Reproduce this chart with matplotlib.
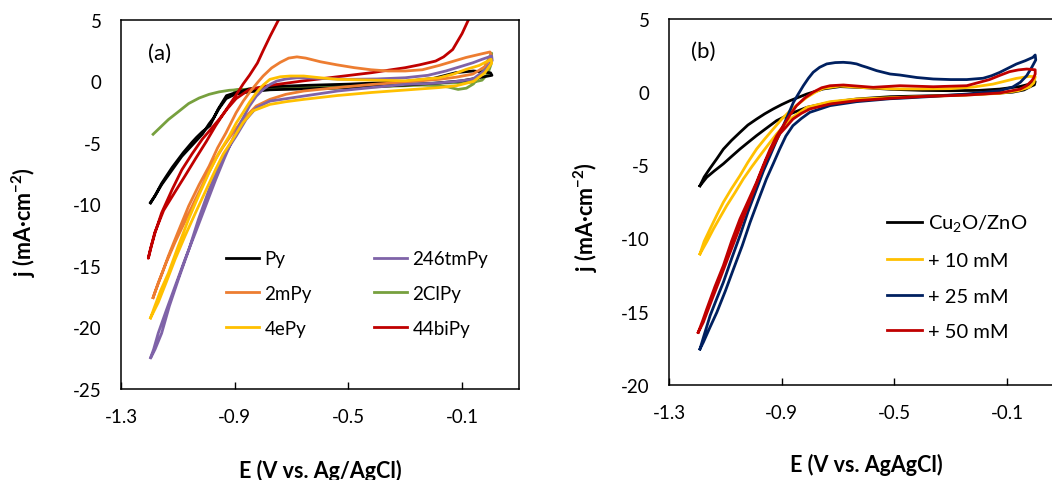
"""Cyclic voltammograms of Cu2O/ZnO with pyridine derivatives (two panels)."""

import matplotlib
matplotlib.use("Agg")
import matplotlib.pyplot as plt

plt.rcParams["font.family"] = ["Lato", "DejaVu Sans"]
plt.rcParams["mathtext.fontset"] = "custom"
plt.rcParams["mathtext.rm"] = "Lato"
plt.rcParams["mathtext.bf"] = "Lato:bold"

# ---- panel (a): loops, forward sweep then return sweep ----
py_e = [-1.196, -1.18, -1.157, -1.14, -1.12, -1.081, -1.05, -1.034, -1.014, -0.987,
        -0.958, -0.929, -0.894, -0.85, -0.776, -0.65, -0.50, -0.40, -0.30, -0.20,
        -0.121, -0.06, 0.0,
        0.005, -0.03, -0.10, -0.20, -0.30, -0.50, -0.65, -0.776, -0.85, -0.90,
        -0.93, -0.955, -0.975, -0.99, -1.014, -1.05, -1.086, -1.12, -1.157, -1.18, -1.196]
py_j = [-9.85, -9.3, -8.3, -7.7, -7.0, -5.8, -4.95, -4.55, -4.1, -3.6,
        -2.25, -1.16, -0.89, -0.62, -0.43, -0.32, -0.22, -0.12, 0.0, 0.25,
        0.72, 0.85, 0.7,
        0.5, 0.35, 0.05, -0.15, -0.3, -0.5, -0.6, -0.68, -0.85, -1.05,
        -1.4, -2.2, -3.0, -3.45, -4.3, -5.2, -6.1, -7.2, -8.4, -9.3, -9.9]

mpy2_e = [-1.187, -1.181, -1.155, -1.133, -1.10, -1.062, -1.025, -0.99, -0.96, -0.931,
          -0.895, -0.87, -0.848, -0.82, -0.80, -0.77, -0.74, -0.71, -0.681, -0.65,
          -0.598, -0.54, -0.479, -0.42, -0.36, -0.30, -0.24, -0.181, -0.13, -0.086,
          -0.04, -0.002,
          0.003, -0.02, -0.062, -0.12, -0.181, -0.30, -0.42, -0.538, -0.657, -0.72,
          -0.776, -0.824, -0.871, -0.907, -0.94, -0.967, -1.0, -1.038, -1.075, -1.11,
          -1.14, -1.169, -1.187]
mpy2_j = [-17.6, -17.2, -15.6, -14.2, -12.3, -10.15, -8.4, -6.9, -5.4, -4.2,
          -2.55, -1.6, -0.9, -0.1, 0.44, 1.1, 1.55, 1.9, 2.0, 1.9,
          1.6, 1.35, 1.12, 0.95, 0.85, 0.85, 0.95, 1.3, 1.65, 1.95,
          2.2, 2.4,
          2.1, 1.2, 0.6, 0.35, 0.17, -0.05, -0.25, -0.5, -0.78, -1.05,
          -1.46, -2.0, -3.1, -4.2, -5.3, -6.3, -7.8, -9.6, -11.4, -13.1,
          -14.7, -16.4, -17.6]

epy4_e = [-1.196, -1.181, -1.16, -1.133, -1.10, -1.062, -1.025, -0.99, -0.955, -0.919,
          -0.895, -0.871, -0.848, -0.824, -0.80, -0.776, -0.74, -0.705, -0.657, -0.60,
          -0.538, -0.419, -0.30, -0.181, -0.13, -0.086, -0.04, 0.002,
          0.004, -0.02, -0.06, -0.12, -0.181, -0.30, -0.419, -0.54, -0.657, -0.72,
          -0.776, -0.836, -0.871, -0.907, -0.94, -0.967, -1.0, -1.038, -1.075, -1.11,
          -1.14, -1.169, -1.196]
epy4_j = [-19.25, -18.3, -17.0, -15.6, -13.5, -11.2, -9.2, -7.4, -5.8, -4.45,
          -3.4, -2.55, -1.7, -0.92, -0.3, 0.17, 0.38, 0.44, 0.44, 0.3,
          0.17, 0.11, 0.05, 0.3, 0.6, 0.98, 1.3, 1.8,
          1.5, 0.7, 0.0, -0.35, -0.5, -0.7, -0.9, -1.15, -1.46, -1.65,
          -1.87, -2.4, -3.36, -4.72, -5.9, -7.16, -8.8, -10.7, -12.6, -14.5,
          -16.3, -18.0, -19.25]

tmpy_e = [-1.196, -1.185, -1.169, -1.14, -1.11, -1.075, -1.038, -1.0, -0.967, -0.937,
          -0.907, -0.878, -0.848, -0.824, -0.80, -0.776, -0.752, -0.72, -0.681, -0.60,
          -0.50, -0.40, -0.30, -0.22, -0.157, -0.10, -0.062, -0.03, 0.004,
          0.006, -0.02, -0.062, -0.12, -0.20, -0.30, -0.419, -0.538, -0.657, -0.776,
          -0.824, -0.86, -0.895, -0.93, -0.955, -0.99, -1.027, -1.06, -1.098, -1.13,
          -1.157, -1.18, -1.193]
tmpy_j = [-22.5, -21.8, -20.5, -18.6, -16.7, -14.5, -12.3, -10.0, -8.0, -6.3,
          -4.7, -3.3, -2.0, -1.2, -0.65, -0.25, 0.03, 0.2, 0.3, 0.25,
          0.17, 0.2, 0.3, 0.5, 0.85, 1.25, 1.52, 1.8, 2.07,
          1.7, 0.9, 0.19, 0.0, -0.15, -0.24, -0.5, -0.78, -1.19, -1.6,
          -2.14, -3.1, -4.45, -5.7, -6.9, -8.8, -11.2, -13.6, -16.1, -18.3,
          -20.5, -21.8, -22.4]

clpy_e = [-1.187, -1.16, -1.133, -1.10, -1.062, -1.025, -0.99, -0.955, -0.919, -0.878,
          -0.836, -0.70, -0.55, -0.42, -0.30, -0.24, -0.18, -0.15, -0.114, -0.085,
          -0.06, -0.038, -0.02, -0.002, 0.004,
          0.002, -0.01, -0.03, -0.06, -0.10, -0.20, -0.30, -0.50, -0.70, -0.836, -0.90]
clpy_j = [-4.3, -3.7, -3.1, -2.5, -1.8, -1.35, -1.05, -0.85, -0.72, -0.66,
          -0.62, -0.6, -0.55, -0.45, -0.35, -0.3, -0.35, -0.45, -0.65, -0.55,
          -0.2, 0.44, 1.2, 2.07, 2.3,
          1.4, 0.6, 0.1, -0.05, -0.1, -0.15, -0.2, -0.35, -0.5, -0.6, -0.72]

bipy_e = [-0.072, -0.10, -0.133, -0.165, -0.193, -0.25, -0.30, -0.419, -0.538, -0.657,
          -0.776, -0.848, -0.895, -0.925, -0.955, -1.014, -1.05, -1.086, -1.12, -1.157,
          -1.18, -1.193, -1.204,
          -1.196, -1.181, -1.15, -1.11, -1.075, -1.038, -1.0, -0.967, -0.93, -0.895,
          -0.87, -0.848, -0.82, -0.80, -0.775, -0.746, -0.735]
bipy_j = [5.3, 3.9, 2.6, 2.0, 1.66, 1.35, 1.12, 0.71, 0.38, 0.05,
          -0.32, -0.65, -1.4, -2.2, -3.1, -4.7, -5.9, -7.2, -8.8, -10.7,
          -12.3, -13.4, -14.4,
          -13.6, -12.3, -10.5, -9.0, -7.7, -6.3, -4.9, -3.6, -2.3, -1.1,
          -0.2, 0.5, 1.5, 2.5, 3.7, 5.0, 5.5]

# ---- panel (b) ----
cz_e = [-1.19, -1.175, -1.154, -1.13, -1.107, -1.078, -1.048, -1.02, -0.989, -0.96,
        -0.93, -0.90, -0.87, -0.811, -0.752, -0.693, -0.60, -0.515, -0.40, -0.30,
        -0.20, -0.126, -0.053, -0.02, 0.0,
        -0.003, -0.015, -0.04, -0.08, -0.126, -0.25, -0.40, -0.515, -0.634, -0.728,
        -0.811, -0.87, -0.918, -0.96, -0.989, -1.02, -1.048, -1.078, -1.107, -1.14,
        -1.166, -1.19]
cz_j = [-6.4, -5.8, -5.2, -4.55, -3.9, -3.3, -2.75, -2.25, -1.84, -1.48,
        -1.15, -0.85, -0.58, -0.13, 0.22, 0.38, 0.3, 0.2, 0.12, 0.1,
        0.12, 0.21, 0.39, 0.55, 0.72,
        0.5, 0.4, 0.15, 0.0, -0.06, -0.18, -0.26, -0.31, -0.47, -0.7,
        -1.04, -1.49, -1.95, -2.55, -2.97, -3.45, -3.89, -4.4, -4.9, -5.4,
        -5.82, -6.4]

m10_e = [-1.19, -1.175, -1.154, -1.13, -1.107, -1.078, -1.048, -1.02, -0.989, -0.96,
         -0.93, -0.90, -0.87, -0.84, -0.811, -0.78, -0.752, -0.693, -0.60, -0.50,
         -0.40, -0.30, -0.22, -0.15, -0.067, -0.02, 0.0,
         -0.005, -0.02, -0.06, -0.126, -0.25, -0.40, -0.515, -0.634, -0.728, -0.811,
         -0.87, -0.918, -0.948, -0.977, -1.006, -1.036, -1.065, -1.095, -1.12, -1.142,
         -1.165, -1.19]
m10_j = [-11.06, -10.2, -9.35, -8.4, -7.53, -6.6, -5.71, -4.8, -3.89, -3.2,
         -2.52, -1.85, -1.27, -0.8, -0.36, 0.0, 0.26, 0.42, 0.3, 0.22,
         0.22, 0.24, 0.35, 0.55, 0.94, 1.08, 1.05,
         0.64, 0.35, 0.1, -0.08, -0.2, -0.3, -0.38, -0.47, -0.65, -1.04,
         -1.84, -2.86, -3.6, -4.34, -5.1, -5.93, -6.85, -7.76, -8.6, -9.35,
         -10.2, -11.06]

m25_e = [-1.19, -1.175, -1.154, -1.13, -1.107, -1.078, -1.048, -1.02, -0.989, -0.965,
         -0.941, -0.918, -0.894, -0.875, -0.858, -0.84, -0.823, -0.805, -0.788, -0.765,
         -0.74, -0.71, -0.681, -0.655, -0.634, -0.615, -0.598, -0.563, -0.515, -0.48,
         -0.42, -0.362, -0.30, -0.243, -0.185, -0.155, -0.126, -0.095, -0.067, -0.035,
         -0.008, 0.0,
         0.002, -0.012, -0.03, -0.053, -0.08, -0.126, -0.243, -0.362, -0.48, -0.515,
         -0.634, -0.728, -0.80, -0.83, -0.86, -0.885, -0.907, -0.93, -0.954, -0.983,
         -1.012, -1.04, -1.071, -1.10, -1.13, -1.155, -1.178, -1.19]
m25_j = [-17.56, -16.6, -15.28, -14.1, -13.0, -11.4, -9.81, -8.2, -6.62, -5.4,
         -4.34, -3.3, -2.29, -1.45, -0.69, -0.1, 0.44, 0.95, 1.36, 1.7,
         1.93, 2.02, 2.04, 2.0, 1.93, 1.8, 1.7, 1.47, 1.24, 1.17,
         1.0, 0.9, 0.86, 0.86, 0.95, 1.12, 1.35, 1.65, 1.92, 2.15,
         2.38, 2.54,
         2.2, 1.7, 1.13, 0.67, 0.35, 0.1, -0.13, -0.29, -0.42, -0.45,
         -0.65, -0.92, -1.38, -1.8, -2.29, -3.0, -3.89, -4.9, -5.93, -7.4,
         -8.9, -10.5, -12.09, -13.6, -15.05, -16.1, -17.1, -17.56]

m50_e = [-1.196, -1.18, -1.166, -1.137, -1.107, -1.078, -1.048, -1.018, -0.989, -0.965,
         -0.941, -0.918, -0.894, -0.87, -0.847, -0.818, -0.788, -0.758, -0.728, -0.681,
         -0.575, -0.48, -0.362, -0.243, -0.162, -0.125, -0.091, -0.06, -0.03, 0.0,
         0.0, -0.006, -0.012, -0.03, -0.053, -0.126, -0.243, -0.40, -0.515, -0.634,
         -0.728, -0.80, -0.83, -0.86, -0.885, -0.907, -0.93, -0.954, -0.978, -1.001,
         -1.03, -1.06, -1.09, -1.119, -1.15, -1.178, -1.196]
m50_j = [-16.42, -15.6, -14.83, -13.3, -11.86, -10.2, -8.67, -7.4, -6.16, -5.0,
         -3.89, -3.0, -2.29, -1.55, -0.92, -0.4, 0.0, 0.3, 0.44, 0.49,
         0.33, 0.44, 0.37, 0.44, 0.86, 1.15, 1.4, 1.52, 1.58, 1.53,
         1.24, 0.95, 0.78, 0.45, 0.21, -0.06, -0.2, -0.3, -0.42, -0.58,
         -0.81, -1.15, -1.45, -1.84, -2.4, -2.86, -3.7, -4.57, -5.7, -6.85,
         -8.3, -9.81, -11.3, -12.77, -14.3, -15.73, -16.42]

labels_a = ["Py", "2mPy", "4ePy", "246tmPy", "2ClPy", "44biPy"]
colors_a = ["#000000", "#ED7D31", "#FFC000", "#7F63A8", "#77A03E", "#C00000"]
curves_a = [(py_e, py_j), (mpy2_e, mpy2_j), (epy4_e, epy4_j),
            (tmpy_e, tmpy_j), (clpy_e, clpy_j), (bipy_e, bipy_j)]
draw_order_a = [4, 0, 5, 1, 3, 2]

labels_b = ["Cu$_\\mathrm{2}$O/ZnO", "+ 10 mM", "+ 25 mM", "+ 50 mM"]
colors_b = ["#000000", "#FFC000", "#002060", "#C00000"]
curves_b = [(cz_e, cz_j), (m10_e, m10_j), (m25_e, m25_j), (m50_e, m50_j)]

x_ticks = [-1.3, -0.9, -0.5, -0.1]
x_tick_labels = ["-1.3", "-0.9", "-0.5", "-0.1"]


def style_axes(ax, yticks):
    """Excel-like axes: full box, inward x ticks, no y tick marks."""
    ax.set_xlim(-1.3, 0.1)
    ax.set_ylim(yticks[0], yticks[-1])
    ax.set_xticks(x_ticks)
    ax.set_xticklabels(x_tick_labels)
    ax.set_yticks(yticks)
    ax.set_yticklabels([str(v) for v in yticks])
    for sp in ax.spines.values():
        sp.set_linewidth(1.1)
    ax.tick_params(axis="x", direction="in", length=5, width=1.0,
                   labelsize=13.5, pad=14)
    ax.tick_params(axis="y", length=0, labelsize=13.5, pad=14)


fig = plt.figure(figsize=(10.52, 4.81), dpi=100)

ax_a = fig.add_axes([0.1150, 0.1902, 0.3783, 0.7661])
handles = {}
for i in draw_order_a:
    e, j = curves_a[i]
    handles[i], = ax_a.plot(e, j, color=colors_a[i], lw=2.0,
                            solid_joinstyle="round", label=labels_a[i])
style_axes(ax_a, [-25, -20, -15, -10, -5, 0, 5])
ax_a.set_xlabel("E (V vs. Ag/AgCl)", fontsize=15.5, fontweight="bold")
ax_a.xaxis.label.set_va("baseline")
ax_a.xaxis.set_label_coords(0.5, -0.2401)
ax_a.set_ylabel("j (mA·cm$^{\\mathbf{-2}}$)", fontsize=15.5, fontweight="bold")
ax_a.yaxis.label.set_va("center")
ax_a.yaxis.set_label_coords(-0.2437, 0.455)
ax_a.text(0.098, 0.910, "(a)", transform=ax_a.transAxes, fontsize=16,
          ha="center", va="center")
ax_a.legend([handles[i] for i in range(6)], labels_a, ncol=2,
            loc="upper left", bbox_to_anchor=(0.2145, 0.4780),
            bbox_transform=fig.transFigure, frameon=False, fontsize=13.5,
            handlelength=1.8, handletextpad=0.27, columnspacing=3.3,
            labelspacing=0.95, borderpad=0, borderaxespad=0)

ax_b = fig.add_axes([0.6359, 0.1981, 0.3749, 0.7603])
for (e, j), c, lab in zip(curves_b, colors_b, labels_b):
    ax_b.plot(e, j, color=c, lw=2.0, solid_joinstyle="round", label=lab)
style_axes(ax_b, [-20, -15, -10, -5, 0, 5])
ax_b.set_xlabel("E (V vs. AgAgCl)", fontsize=15.5, fontweight="bold")
ax_b.xaxis.label.set_va("baseline")
ax_b.xaxis.set_label_coords(0.5, -0.2352)
ax_b.set_ylabel("j (mA·cm$^{\\mathbf{-2}}$)", fontsize=15.5, fontweight="bold")
ax_b.yaxis.label.set_va("center")
ax_b.yaxis.set_label_coords(-0.211, 0.462)
ax_b.text(0.087, 0.913, "(b)", transform=ax_b.transAxes, fontsize=16,
          ha="center", va="center")
ax_b.legend(loc="upper left", bbox_to_anchor=(0.8432, 0.5553),
            bbox_transform=fig.transFigure, frameon=False, fontsize=14.5,
            handlelength=1.72, handletextpad=0.3, labelspacing=0.9,
            borderpad=0, borderaxespad=0)

fig.savefig("out.png", dpi=100)
